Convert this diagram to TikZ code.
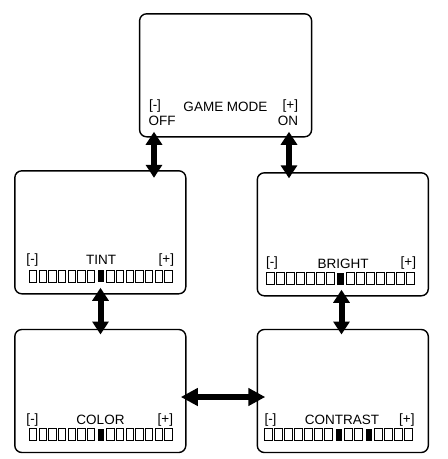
\documentclass[tikz,border=0pt]{standalone}
\usepackage{fontspec}
\setmainfont{Liberation Sans}
\usetikzlibrary{arrows.meta,positioning,calc}
\tikzset{
    screen/.style={draw, line width=1.4pt, rounded corners=7pt, inner sep=0pt, outer sep=0pt,
        minimum width=171pt, minimum height=123pt}, % one OSD screen
    osd/.style={inner sep=0pt, outer sep=0pt, font=\fontsize{13.5}{14}\selectfont}, % screen text
    cell/.style={line width=0.8pt}, % empty bar cell
    dblarrow/.style={line width=6pt, {Triangle[width=16pt,length=13pt]}-{Triangle[width=16pt,length=13pt]}},
    widearrow/.style={line width=6pt, {Triangle[width=17pt,length=17pt]}-{Triangle[width=17pt,length=17pt]}},
}

\begin{document}
\begin{tikzpicture}[x=1pt,y=-1pt]
        \useasboundingbox (0,0) rectangle (448,459);

        % Game mode screen
        \node[screen, minimum width=172pt] (game) at (225.6,75.3) {};
        \node[osd, anchor=base west] (gameminus) at (149,109.5) {[-]};
        \node[osd, anchor=base] (gamelabel) at (225.5,111) {GAME MODE};
        \node[osd, anchor=base east] (gameplus) at (298,109.5) {[+]};
        \node[osd, anchor=base west] (gameoff) at (148.5,125.5) {OFF};
        \node[osd, anchor=base east] (gameon) at (298,125.5) {ON};

        % Tint screen
        \node[screen] (tint) at (100.3,232.3) {};
        \node[osd, anchor=base west] (tintminus) at (26.5,263) {[-]};
        \node[osd, anchor=base] (tintlabel) at (101,264.5) {TINT};
        \node[osd, anchor=base east] (tintplus) at (174,263) {[+]};
        \foreach \i in {0,...,6,8,9,...,14}
            \draw[cell] ({29.3+9.67*\i},270) rectangle ++(7.5,12);
        \fill ({29.3+9.67*7+0.8},270) rectangle ++(6.2,12.4);

        % Bright screen
        \node[screen] (bright) at (342.8,234.3) {};
        \node[osd, anchor=base west] (brightminus) at (266,266) {[-]};
        \node[osd, anchor=base] (brightlabel) at (343,268) {BRIGHT};
        \node[osd, anchor=base east] (brightplus) at (416,266) {[+]};
        \foreach \i in {0,...,6,8,9,...,14}
            \draw[cell] ({266.3+10*\i},272.5) rectangle ++(7.7,12);
        \fill ({266.3+10*7+0.8},272.5) rectangle ++(6.4,12.4);

        % Color screen
        \node[screen] (color) at (100.3,391) {};
        \node[osd, anchor=base west] (colorminus) at (26.5,423) {[-]};
        \node[osd, anchor=base] (colorlabel) at (100.5,424.5) {COLOR};
        \node[osd, anchor=base east] (colorplus) at (173,423) {[+]};
        \foreach \i in {0,...,6,8,9,...,14}
            \draw[cell] ({29.3+9.67*\i},428.5) rectangle ++(7.5,12);
        \fill ({29.3+9.67*7+0.8},428.5) rectangle ++(6.2,12.4);

        % Contrast screen
        \node[screen] (contrast) at (342.8,391) {};
        \node[osd, anchor=base west] (contrastminus) at (264.5,423) {[-]};
        \node[osd, anchor=base] (contrastlabel) at (342,424.5) {CONTRAST};
        \node[osd, anchor=base east] (contrastplus) at (414.5,423) {[+]};
        \foreach \i in {0,...,6,8,9,11,12,...,14}
            \draw[cell] ({264.8+10*\i},428.5) rectangle ++(7.7,12);
        \foreach \i in {7,10}
            \fill ({264.8+10*\i+0.8},428.5) rectangle ++(6.4,12.4);

        % Arrows between screens
        \coordinate (colgt) at (154,0);
        \coordinate (colgb) at (289,0);
        \coordinate (coltc) at (100.5,0);
        \coordinate (colbc) at (341.5,0);
        \draw[dblarrow] ([yshift=5pt]game.south -| colgt) -- ([yshift=-7pt]tint.north -| colgt);
        \draw[dblarrow] ([yshift=5pt]game.south -| colgb) -- ([yshift=-5.5pt]bright.north -| colgb);
        \draw[dblarrow] ([yshift=6pt]tint.south -| coltc) -- ([yshift=-5pt]color.north -| coltc);
        \draw[dblarrow] ([yshift=6pt]bright.south -| colbc) -- ([yshift=-5pt]contrast.north -| colbc);
        \draw[widearrow] ([xshift=-5pt,yshift=-6pt]color.east) -- ([xshift=8pt,yshift=-6pt]color.east -| contrast.west);
\end{tikzpicture}
\end{document}
